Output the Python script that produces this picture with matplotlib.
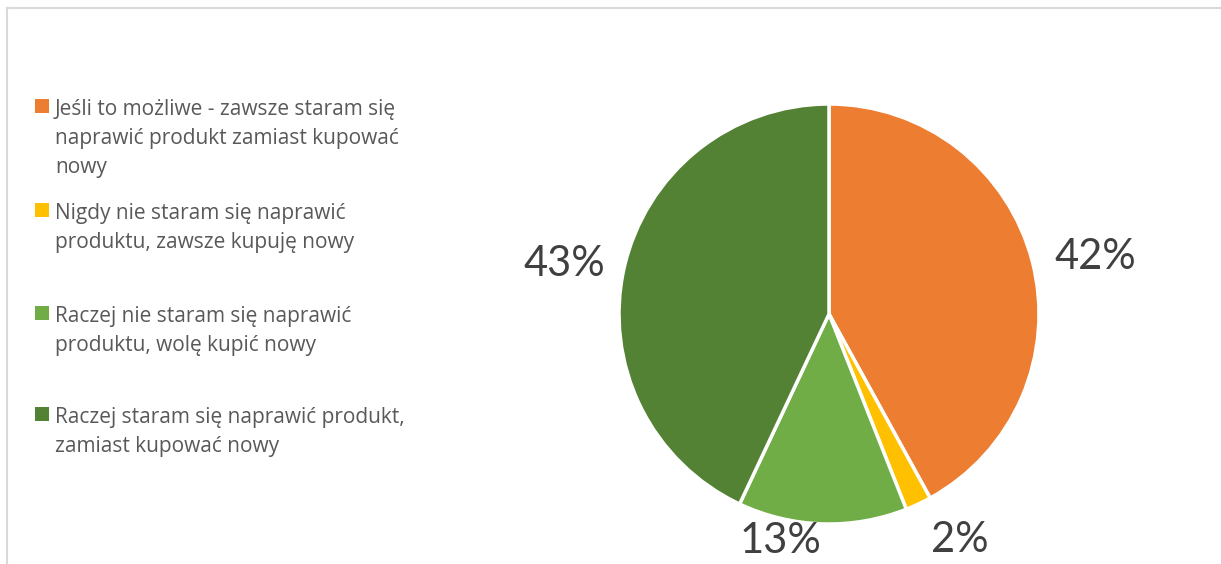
import numpy as np
import matplotlib.pyplot as plt
from matplotlib.lines import Line2D
from matplotlib.patches import Rectangle

plt.rcParams['font.family'] = ['Lato', 'DejaVu Sans']

# data
labels = ['Jeśli to możliwe - zawsze staram się\nnaprawić produkt zamiast kupować\nnowy',
          'Nigdy nie staram się naprawić\nproduktu, zawsze kupuję nowy',
          'Raczej nie staram się naprawić\nproduktu, wolę kupić nowy',
          'Raczej staram się naprawić produkt,\nzamiast kupować nowy']
shares = [42, 2, 13, 43]
colors = ['#ED7D31', '#FFC000', '#70AD47', '#548235']

W, H = 1221, 564
fig = plt.figure(figsize=(W / 100, H / 100), dpi=100)

# chart frame (only top and left edge are visible in the crop)
fig.add_artist(Line2D([7 / W, 1], [1 - 8 / H, 1 - 8 / H], color='#d9d9d9', lw=1.5))
fig.add_artist(Line2D([7 / W, 7 / W], [0, 1 - 8 / H], color='#d9d9d9', lw=1.5))

# pie
cx, cy, r = 829, 314, 210
ax = fig.add_axes([(cx - r) / W, (H - cy - r) / H, 2 * r / W, 2 * r / H])
wedges, _ = ax.pie(shares, colors=colors, startangle=90, counterclock=False,
                   wedgeprops=dict(edgecolor='white', linewidth=2.5))
ax.set_xlim(-1, 1)
ax.set_ylim(-1, 1)
ax.set_aspect('equal')
ax.axis('off')

for w, s in zip(wedges, shares):
    ang = np.deg2rad((w.theta1 + w.theta2) / 2)
    c, sn = np.cos(ang), np.sin(ang)
    ha = 'left' if c >= 0 else 'right'
    va = 'center' if abs(sn) < 0.5 else ('top' if sn < 0 else 'bottom')
    d = 1.09
    y = max(d * sn, -0.99)  # keep bottom labels inside the chart area
    ax.text(d * c + (0.02 if c >= 0 else 0), y, f'{s}%', ha=ha, va=va, fontsize=30,
            color='#404040', clip_on=False)

# legend drawn by hand
first_base = [115, 219, 322, 423]
pitch = 29
for lab, col, b in zip(labels, colors, first_base):
    fig.add_artist(Rectangle((35 / W, 1 - 113 / H + (115 - b) / H), 14 / W, 14 / H,
                             facecolor=col, edgecolor='none'))
    for i, line in enumerate(lab.split('\n')):
        fig.text(55 / W, 1 - (b + i * pitch) / H, line, fontsize=15, color='#595959',
                 va='baseline', family=['Open Sans', 'DejaVu Sans'])

fig.savefig('out.png', dpi=100)
